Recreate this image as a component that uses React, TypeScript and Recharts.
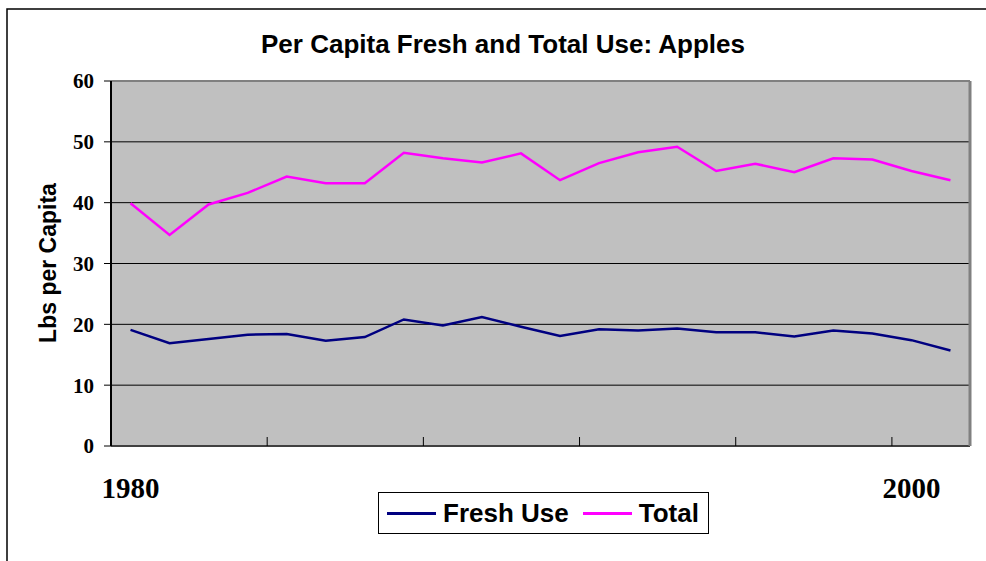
import React from 'react';
import {
  LineChart,
  Line,
  XAxis,
  YAxis,
  CartesianGrid,
  Legend,
} from 'recharts';

const years = [
  '1980', '1981', '1982', '1983', '1984', '1985', '1986', '1987', '1988', '1989', '1990',
  '1991', '1992', '1993', '1994', '1995', '1996', '1997', '1998', '1999', '2000', '2001',
];
const freshUse = [
  19.1, 16.9, 17.6, 18.3, 18.4, 17.3, 17.9, 20.8, 19.8, 21.2, 19.6,
  18.1, 19.2, 19.0, 19.3, 18.7, 18.7, 18.0, 19.0, 18.5, 17.4, 15.7,
];
const totalUse = [
  39.9, 34.7, 39.7, 41.6, 44.3, 43.2, 43.2, 48.2, 47.3, 46.6, 48.1,
  43.7, 46.5, 48.3, 49.2, 45.2, 46.4, 45.0, 47.3, 47.1, 45.2, 43.7,
];
const yTicks = [0, 10, 20, 30, 40, 50, 60];
const labelledYears = ['1980', '2000'];

const data = years.map((year, i) => ({ year, fresh: freshUse[i], total: totalUse[i] }));

const WIDTH = 986;
const HEIGHT = 561;
const PLOT_LEFT = 111;
const PLOT_RIGHT = 970;
const BAND = (PLOT_RIGHT - PLOT_LEFT) / years.length;

const serif = '"Liberation Serif", "Times New Roman", serif';
const sans = '"Liberation Sans", Arial, sans-serif';

// year labels only on 1980 and 2000, small marks between every 4th band
function YearTick(props: any) {
  const { x, y, payload, index } = props;
  const showMark = index > 0 && index % 4 === 0;
  return (
    <g>
      {showMark && (
        <line x1={x - BAND / 2} x2={x - BAND / 2} y1={y} y2={y - 9} stroke="#000" strokeWidth={1} />
      )}
      {labelledYears.includes(payload.value) && (
        <text
          x={x}
          y={y + 52}
          textAnchor="middle"
          fontFamily={serif}
          fontWeight="bold"
          fontSize={29}
          fill="#000"
        >
          {payload.value}
        </text>
      )}
    </g>
  );
}

function LegendBox() {
  const items = [
    { name: 'Fresh Use', color: '#000080' },
    { name: 'Total', color: '#ff00ff' },
  ];
  return (
    <div
      style={{
        boxSizing: 'border-box',
        width: '100%',
        height: '100%',
        border: '1px solid #000',
        background: '#fff',
        display: 'flex',
        alignItems: 'center',
        paddingLeft: 8,
        fontFamily: sans,
        fontWeight: 'bold',
        fontSize: 26,
        color: '#000',
        whiteSpace: 'nowrap',
        overflow: 'hidden',
      }}
    >
      {items.map((item) => (
        <div key={item.name} style={{ display: 'flex', alignItems: 'center', marginRight: 14, flexShrink: 0 }}>
          <div style={{ width: 49, height: 3, background: item.color, marginRight: 7, flexShrink: 0 }} />
          <span>{item.name}</span>
        </div>
      ))}
    </div>
  );
}

export default function App() {
  return (
    <div style={{ position: 'absolute', left: 0, top: 0, width: WIDTH, height: HEIGHT, background: '#fff' }}>
      <LineChart width={WIDTH} height={HEIGHT} data={data} margin={{ top: 0, right: 0, bottom: 0, left: 0 }}>
        <path d={`M7,${HEIGHT} L7,9 L${WIDTH},9`} fill="none" stroke="#000" strokeWidth={1.5} />
        <text
          x={503}
          y={53}
          textAnchor="middle"
          fontFamily={sans}
          fontWeight="bold"
          fontSize={26}
          fill="#000"
        >
          Per Capita Fresh and Total Use: Apples
        </text>
        <text
          x={56}
          y={263}
          transform="rotate(-90 56 263)"
          textAnchor="middle"
          fontFamily={sans}
          fontWeight="bold"
          fontSize={23}
          fill="#000"
        >
          Lbs per Capita
        </text>
        <CartesianGrid fill="#c0c0c0" vertical={false} stroke="#000" strokeWidth={1} />
        <XAxis
          xAxisId="top"
          dataKey="year"
          orientation="top"
          height={81}
          tick={false}
          tickLine={false}
          axisLine={{ stroke: '#808080', strokeWidth: 2 }}
        />
        <XAxis
          dataKey="year"
          height={115}
          interval={0}
          padding={{ left: BAND / 2, right: BAND / 2 }}
          tickSize={0}
          tickMargin={0}
          tickLine={false}
          axisLine={{ stroke: '#404040', strokeWidth: 2 }}
          tick={<YearTick />}
        />
        <YAxis
          width={PLOT_LEFT}
          domain={[0, 60]}
          ticks={yTicks}
          interval={0}
          tickSize={7}
          tickMargin={10}
          tickLine={{ stroke: '#000' }}
          axisLine={{ stroke: '#000', strokeWidth: 2 }}
          tick={{ fontFamily: serif, fontWeight: 'bold', fontSize: 21, fill: '#000' }}
        />
        <YAxis
          yAxisId="right"
          orientation="right"
          width={WIDTH - PLOT_RIGHT}
          domain={[0, 60]}
          tick={false}
          tickLine={false}
          axisLine={{ stroke: '#808080', strokeWidth: 3 }}
        />
        <Legend
          layout="horizontal"
          verticalAlign="middle"
          align="center"
          wrapperStyle={{ left: 378, top: 492, width: 331, height: 42 }}
          content={<LegendBox />}
        />
        <Line
          dataKey="fresh"
          name="Fresh Use"
          stroke="#000080"
          strokeWidth={2.5}
          dot={false}
          type="linear"
          isAnimationActive={false}
        />
        <Line
          dataKey="total"
          name="Total"
          stroke="#ff00ff"
          strokeWidth={2.5}
          dot={false}
          type="linear"
          isAnimationActive={false}
        />
      </LineChart>
    </div>
  );
}
